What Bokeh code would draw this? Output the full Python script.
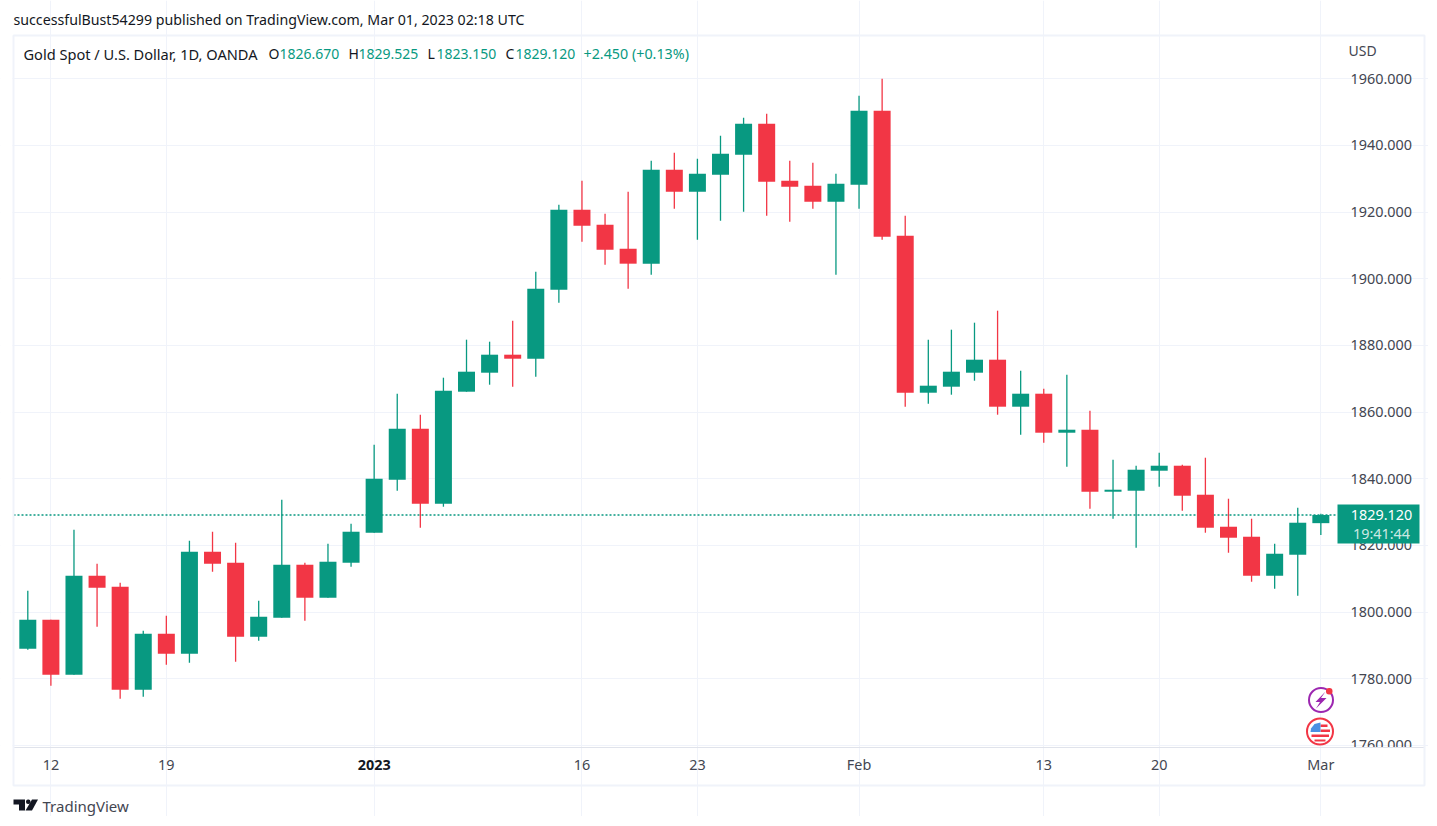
from bokeh.plotting import figure
from bokeh.models import (ColumnDataSource, FixedTicker, Range1d, BoxAnnotation,
                          PolyAnnotation, Label)
from bokeh.embed import file_html
from bokeh.resources import INLINE

GREEN = "#089981"
RED = "#F23645"
GRID = "#f0f3fa"
FONT = "Noto Sans"

opens = [1789.0,1797.7,1781.2,1810.9,1807.6,1776.7,1793.5,1787.5,1818.1,1814.8,1792.6,1798.3,1814.2,1804.3,1814.8,
         1823.8,1839.7,1855.0,1832.5,1866.1,1871.8,1877.2,1876.0,1896.7,1920.7,1916.2,1909.0,1904.5,1932.7,1926.1,
         1931.2,1937.2,1946.5,1929.4,1927.9,1923.1,1928.2,1950.4,1912.9,1865.8,1867.6,1871.8,1875.7,1861.6,1865.5,
         1853.8,1854.7,1836.1,1836.4,1842.4,1843.9,1835.2,1825.6,1822.6,1810.9,1817.2,1826.67]
highs = [1806.4,1797.7,1824.7,1814.5,1808.8,1794.4,1798.9,1821.4,1824.1,1820.8,1803.4,1833.7,1814.8,1820.5,1826.5,
         1850.2,1865.5,1859.2,1870.3,1881.7,1881.1,1887.4,1902.1,1922.2,1929.4,1919.5,1926.1,1935.4,1937.8,1936.0,
         1942.9,1948.3,1949.5,1935.4,1934.8,1931.5,1954.9,1960.0,1918.9,1881.7,1884.7,1886.8,1890.4,1872.4,1867.0,
         1871.2,1860.4,1845.7,1843.9,1847.8,1844.2,1846.3,1834.0,1828.0,1820.5,1831.3,1829.525]
lows = [1788.7,1777.9,1781.2,1795.6,1774.0,1774.6,1784.2,1784.8,1812.1,1785.1,1791.4,1798.3,1797.4,1804.3,1813.6,
        1823.8,1836.4,1825.3,1831.6,1866.1,1868.2,1867.6,1870.6,1892.8,1911.1,1904.2,1897.0,1901.2,1921.0,1911.7,
        1917.4,1920.1,1918.9,1917.1,1921.0,1901.2,1921.0,1911.7,1861.6,1862.5,1865.2,1869.4,1859.2,1853.2,1850.8,
        1843.6,1831.0,1828.0,1819.3,1837.6,1830.4,1823.8,1817.8,1809.1,1807.0,1804.9,1823.15]
closes = [1797.7,1781.2,1810.9,1807.3,1776.7,1793.5,1787.5,1818.1,1814.5,1792.6,1798.6,1814.2,1804.3,1815.1,1824.1,
          1840.0,1855.0,1832.5,1866.4,1872.1,1877.2,1876.0,1897.0,1920.7,1915.9,1908.7,1904.5,1932.7,1926.1,1931.5,
          1937.5,1946.5,1929.1,1927.6,1923.1,1928.5,1950.4,1912.6,1865.8,1867.9,1872.1,1875.7,1861.6,1865.5,1853.8,
          1854.7,1836.1,1836.7,1842.7,1843.9,1834.9,1825.3,1822.3,1810.9,1817.5,1826.8,1829.12]
last_price = 1829.12

price_ticks = [1760,1780,1800,1820,1840,1860,1880,1900,1920,1940,1960]
date_tick_pos = [1,6,15,24,29,36,44,49,56]
date_tick_labels = ["12","19","","16","23","Feb","13","20","Mar"]
year_tick_pos = 15
year_label = "2023"

header = "successfulBust54299 published on TradingView.com, Mar 01, 2023 02:18 UTC"
title = "Gold Spot / U.S. Dollar, 1D, OANDA"
ohlc_tags = ["O","H","L","C"]
ohlc_vals = ["1826.670","1829.525","1823.150","1829.120"]
change = "+2.450 (+0.13%)"

W, H = 1428, 816
FL, FT, FR, FB = 13, 35, 1337, 746  # pane edges on the page


# The frame fills the whole canvas so that the surrounding chrome is not clipped; the
# axes are pinned at the pane edges.
def data_x(px):
    return (px - 27.3) / 23.09


def data_y(px):
    return 1960 - (px - 78.14) * 0.29994


p = figure(width=W, height=H, output_backend="svg", toolbar_location=None,
           x_range=Range1d(data_x(0), data_x(W)), y_range=Range1d(data_y(H), data_y(0)),
           y_axis_location="right", min_border=0)
p.outline_line_color = None
p.background_fill_color = "white"
p.border_fill_color = "white"

p.xaxis.ticker = FixedTicker(ticks=date_tick_pos)
p.xaxis.major_label_overrides = {k: v for k, v in zip(date_tick_pos, date_tick_labels)}
p.yaxis.ticker = FixedTicker(ticks=price_ticks)
p.yaxis.major_label_overrides = {k: f"{k}.000" for k in price_ticks}
p.xaxis.fixed_location = data_y(FB)
p.yaxis.fixed_location = data_x(FR)
for ax in (p.xaxis, p.yaxis):
    ax.axis_line_color = None
    ax.major_tick_line_color = None
    ax.minor_tick_line_color = None
    ax.major_label_text_font = FONT
    ax.major_label_text_font_size = "14.4px"
    ax.major_label_text_color = "#434651"
p.xaxis.major_label_standoff = 2
p.yaxis.major_label_standoff = 7
p.xgrid.ticker = FixedTicker(ticks=date_tick_pos)
p.ygrid.ticker = FixedTicker(ticks=price_ticks)
p.xgrid.bounds = (data_y(FB), data_y(FT))
p.ygrid.bounds = (data_x(FL), data_x(FR))
p.xgrid.grid_line_color = GRID
p.ygrid.grid_line_color = GRID

p.line(x=[data_x(FL), data_x(FR)], y=[last_price, last_price], line_color=GREEN, line_width=1.3,
       line_dash="2 2")

colors = [GREEN if c >= o else RED for o, c in zip(opens, closes)]
src = ColumnDataSource(dict(
    x=list(range(len(opens))), o=opens, h=highs, l=lows, c=closes,
    top=[max(a, b) for a, b in zip(opens, closes)],
    bottom=[min(a, b) for a, b in zip(opens, closes)],
    color=colors))
p.segment(x0="x", x1="x", y0="l", y1="h", color="color", line_width=1.3, source=src)
p.vbar(x="x", top="top", bottom="bottom", width=0.736, fill_color="color", line_color=None, source=src)


# ---- page chrome: given in page pixels, screen units count from the frame's lower left ----
def sy(y):
    return H - y


def box(l, t, r, b, fill=None, line=None, lw=1, radius=0):
    kw = dict(left=l, right=r, top=sy(t), bottom=sy(b),
              left_units="screen", right_units="screen", top_units="screen", bottom_units="screen",
              fill_color=fill, fill_alpha=1 if fill else 0,
              line_color=line, line_alpha=1 if line else 0, line_width=lw,
              editable=False)
    if radius:
        kw["border_radius"] = radius
    p.add_layout(BoxAnnotation(**kw))


def poly(xs, ys, fill):
    p.add_layout(PolyAnnotation(xs=list(xs), ys=[sy(y) for y in ys],
                                xs_units="screen", ys_units="screen",
                                fill_color=fill, fill_alpha=1, line_color=None))


def text(x, y, s, color="#131722", size="14px", align="left", style="normal", alpha=1.0):
    p.add_layout(Label(x=x, y=sy(y), x_units="screen", y_units="screen", text=s,
                       text_font=FONT, text_font_size=size, text_color=color, text_alpha=alpha,
                       text_align=align, text_baseline="middle", text_font_style=style))


# clip the lowest price label, hide grid stubs left of the pane, draw the frame
box(0, 30, 12, 790, fill="white")
box(1338, 747.5, 1423, 762, fill="white")
box(13, 746.5, 1424, 747.5, fill="#e0e3eb")
box(13, 35, 1424, 785, line=GRID, lw=2)

# last price tag
box(1337, 504, 1419, 543, fill=GREEN)
text(1381, 514.5, ohlc_vals[3], color="white", align="center", size="14.4px")
text(1381, 533, "19:41:44", color="white", align="center", alpha=0.8, size="14.4px")

# header and legend
text(13, 19, header, size="14.2px")
text(23, 53, title, size="14.6px")
for lx, vx, tag, val in zip([268, 348, 427, 505], [279, 358, 436, 515], ohlc_tags, ohlc_vals):
    text(lx, 53, tag)
    text(vx, 53, val, color=GREEN)
text(583, 53, change, color=GREEN, size="14.3px")
text(1348, 50, "USD", color="#434651")

# bold year tick
p.add_layout(Label(x=year_tick_pos, y=sy(764), x_units="data", y_units="screen", text=year_label,
                   text_font=FONT, text_font_size="14.4px", text_font_style="bold", text_color="#131722",
                   text_align="center", text_baseline="middle"))

# event icons
box(1308.5, 687.5, 1332.5, 711.5, fill="white", line="#9c27b0", lw=2, radius=12)
poly([1325, 1315, 1319.5, 1315.5, 1326, 1320.5], [691, 701.5, 701.5, 708, 697.5, 697.5], "#9c27b0")
box(1325.5, 687.5, 1332, 694, fill=RED, radius=3)
box(1306.5, 718, 1332.5, 744, fill="white", line=RED, lw=2, radius=13)
box(1320, 724, 1327, 726.5, fill=RED)
box(1320, 729, 1329.5, 731.5, fill=RED)
box(1311, 734, 1328.5, 736.5, fill=RED)
box(1314, 739, 1325, 741, fill=RED)
poly([1310.5, 1314, 1320, 1320, 1310], [728, 723.5, 722, 731.5, 731.5], "#4a90e2")

# TradingView mark
poly([13, 24.5, 24.5, 18.5, 18.5, 13], [799, 799, 810, 810, 804, 804], "#131722")
box(25.5, 799, 30, 803.5, fill="#131722", radius=2)
poly([31.5, 37.5, 31.5, 25], [799, 799, 810, 810], "#131722")
text(42, 805, "TradingView", color="#434651", size="15px")

open("out.html", "w").write(file_html(p, INLINE))
